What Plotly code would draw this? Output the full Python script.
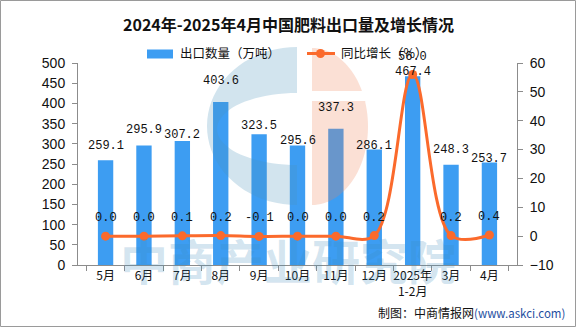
import math
import plotly.graph_objects as go

# Monthly fertilizer exports (10k tonnes) and YoY growth (%)
categories = ["5月", "6月", "7月", "8月", "9月", "10月", "11月", "12月",
              "2025年<br>1-2月", "3月", "4月"]
export_volume = [259.1, 295.9, 307.2, 403.6, 323.5, 295.6, 337.3, 286.1, 467.4, 248.3, 253.7]
yoy_growth = [0.0, 0.0, 0.1, 0.2, -0.1, 0.0, 0.0, 0.2, 56.0, 0.2, 0.4]

# Pixel lift of each volume label above its bar
bar_label_lift = [14, 15, 6, 21, 8, 5, 21, 3, 4, 15, 4]

W, H = 576, 327
ML, MR, MT, MB = 78, 59, 63, 62
PW, PH = W - ML - MR, H - MT - MB

BAR_COLOR = "#3d9df2"
LINE_COLOR = "#fb6a2c"
NUM_FONT = "Liberation Mono, DejaVu Sans Mono, monospace"
TXT_FONT = "Liberation Sans, Noto Sans CJK SC, sans-serif"
CJK_FONT = "Noto Sans CJK SC, sans-serif"


def px(x):
    return (x - ML) / PW


def py(y):
    return (H - MB - y) / PH


fig = go.Figure()
fig.add_trace(go.Bar(
    x=categories, y=export_volume, name="出口数量（万吨）",
    marker=dict(color=BAR_COLOR, line=dict(width=0)), width=0.4,
    yaxis="y", showlegend=False,
))
fig.add_trace(go.Scatter(
    x=categories, y=yoy_growth, name="同比增长（%）", yaxis="y2",
    mode="lines+markers",
    line=dict(color=LINE_COLOR, width=3, shape="spline", smoothing=1.0),
    marker=dict(color=LINE_COLOR, size=9), showlegend=False,
))

annotations = []
for c, v, lift in zip(categories, export_volume, bar_label_lift):
    annotations.append(dict(
        x=c, y=v, xref="x", yref="y", text=f"{v:.1f}", showarrow=False,
        xanchor="center", yanchor="middle", yshift=lift,
        font=dict(family=NUM_FONT, size=12, color="#111"),
    ))
for c, v in zip(categories, yoy_growth):
    annotations.append(dict(
        x=c, y=v, xref="x", yref="y2", text=f"{v:.1f}", showarrow=False,
        xanchor="center", yanchor="middle", yshift=18,
        font=dict(family=NUM_FONT, size=12, color="#111"),
    ))


def paper_text(x, y, text, size, xanchor="center", color="#111", **kw):
    return dict(x=px(x), y=py(y), xref="paper", yref="paper", showarrow=False,
                xanchor=xanchor, yanchor="middle", text=text,
                font=dict(family=CJK_FONT, size=size, color=color), **kw)


# Title
annotations.append(paper_text(288, 24, "<b>2024年-2025年4月中国肥料出口量及增长情况</b>", 16))

# Legend labels
annotations.append(paper_text(178, 53, "出口数量（万吨）", 12.5, xanchor="left"))
annotations.append(paper_text(339, 53, "同比增长（%）", 12.5, xanchor="left"))

# Source note
annotations.append(paper_text(
    567, 312,
    "制图：中商情报网<span style='color:#1f4f9f;font-size:11.5px'>(www.askci.com)</span>",
    12, xanchor="right"))

# Watermark text
annotations.append(paper_text(288, 259, "<b>中商产业研究院</b>", 48,
                              color="rgba(60,140,190,0.22)"))

shapes = []


def ellipse_points(cx, cy, rx, ry, a0, a1, n=40):
    pts = []
    for i in range(n + 1):
        a = math.radians(a0 + (a1 - a0) * i / n)
        pts.append((cx + rx * math.cos(a), cy + ry * math.sin(a)))
    return pts


def path_from(points):
    parts = [f"{'M' if i == 0 else 'L'} {px(x):.5f},{py(y):.5f}" for i, (x, y) in enumerate(points)]
    return " ".join(parts) + " Z"


# Logo watermark: blue left ring
outer = ellipse_points(297, 126, 90, 79, 270, 90)   # top -> left -> bottom (screen coords)
inner = ellipse_points(297, 129, 80, 36, 90, 270)   # bottom -> left -> top
blue_pts = outer + [(297, 165)] + inner
shapes.append(dict(type="path", xref="paper", yref="paper", path=path_from(blue_pts),
                   fillcolor="rgb(75,147,187)", line=dict(width=0), opacity=0.25, layer="above"))

# Logo watermark: orange right half, split by a gap
orange_top = [(312, 48)]
orange_bot = []
for i in range(61):
    a = math.radians(-90 + 180 * i / 60)
    x = 312 + 56 * math.cos(a)
    y = 126.5 + 78.5 * math.sin(a)
    if y <= 91:
        orange_top.append((x, y))
    elif y >= 101:
        orange_bot.append((x, y))
orange_top.append((orange_top[-1][0], 91))
orange_top.append((312, 91))
orange_bot = [(312, 101), (orange_bot[0][0], 101)] + orange_bot + [(312, 205)]
for pts in (orange_top, orange_bot):
    shapes.append(dict(type="path", xref="paper", yref="paper", path=path_from(pts),
                       fillcolor="rgb(239,131,87)", line=dict(width=0), opacity=0.25, layer="above"))

# Legend swatches
shapes.append(dict(type="rect", xref="paper", yref="paper",
                   x0=px(147), x1=px(173), y0=py(49.5), y1=py(58.5),
                   fillcolor=BAR_COLOR, line=dict(width=0)))
shapes.append(dict(type="line", xref="paper", yref="paper",
                   x0=px(307), x1=px(335), y0=py(53.5), y1=py(53.5),
                   line=dict(color=LINE_COLOR, width=3)))
shapes.append(dict(type="circle", xref="paper", yref="paper",
                   x0=px(316), x1=px(325), y0=py(58), y1=py(49),
                   fillcolor=LINE_COLOR, line=dict(width=0)))

# Outer frame
shapes.append(dict(type="rect", xref="paper", yref="paper",
                   x0=px(0.5), x1=px(575.5), y0=py(326.5), y1=py(0.5),
                   line=dict(color="#9a9a9a", width=1), fillcolor="rgba(0,0,0,0)", layer="below"))

axis_common = dict(showgrid=False, zeroline=False, showline=True, linecolor="#8c8c8c",
                   linewidth=1, ticks="outside", ticklen=5, tickcolor="#8c8c8c",
                   tickfont=dict(family=TXT_FONT, size=14, color="#111"))

fig.update_layout(
    width=W, height=H,
    margin=dict(l=ML, r=MR, t=MT, b=MB),
    paper_bgcolor="white", plot_bgcolor="white",
    showlegend=False,
    xaxis=dict(type="category", tickson="boundaries", showgrid=False, showline=True,
               linecolor="#8c8c8c", ticks="outside", ticklen=5, tickcolor="#8c8c8c",
               tickangle=0,
               tickfont=dict(family=CJK_FONT, size=12, color="#111")),
    yaxis=dict(range=[0, 500], dtick=50, ticklabelstandoff=4, **axis_common),
    yaxis2=dict(range=[-10, 60], dtick=10, overlaying="y", side="right",
                ticklabelstandoff=4, **axis_common),
    annotations=annotations,
    shapes=shapes,
)

fig.write_html("out.html")
